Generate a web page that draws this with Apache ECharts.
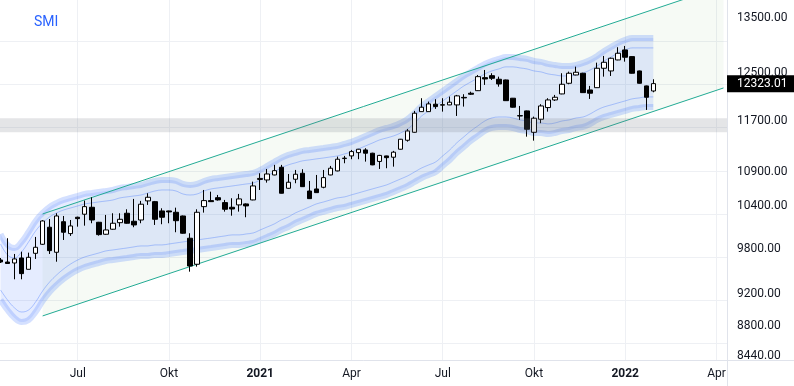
<!DOCTYPE html>
<html><head><meta charset="utf-8">
<script src="https://cdn.jsdelivr.net/npm/echarts@6/dist/echarts.min.js"></script>
<style>html,body{margin:0;padding:0;background:#fff}#c{width:794px;height:386px}</style>
</head><body><div id="c"></div>
<script>
// ---- categories (weekly bars, Monday of each week) ----
const firstWeekUTC = Date.UTC(2020, 3, 20);
const weekCount = 104;
const weeks = [];
for (let i = 0; i < weekCount; i++) weeks.push(new Date(firstWeekUTC + i * 7 * 864e5).toISOString().slice(0, 10));

// ---- candles ----
const opens = [9646,9619,9606,9673,9522,9736,9859,10095,9750,10173,
10006,10236,10279,10379,10165,9997,10067,10159,10293,10179,
10197,10471,10460,10326,10326,10307,10254,9942,9589,10388,
10475,10518,10446,10379,10413,10427,10485,10788,10780,10855,
10972,10656,10791,10881,10616,10646,10671,10855,10916,11105,
11146,11197,11239,11188,11061,11146,11126,11250,11391,11518,
11853,11853,11976,11960,11964,11964,12090,12160,12203,12426,
12460,12398,12386,12076,11787,11865,11518,11728,11920,12047,
12148,12329,12472,12502,12215,12254,12589,12542,12735,12913,
12794,12542,12284,12198];
const closes = [9619,9599,9660,9465,9682,9818,10183,9772,10254,10025,
10113,10216,10388,10197,9992,10057,10151,10207,10151,10127,
10423,10524,10207,10236,10312,10187,10011,9566,10307,10475,
10460,10485,10350,10354,10500,10398,10691,10803,10870,10920,
10583,10746,10866,10680,10504,10592,10815,10957,11095,11112,
11213,11250,11188,11008,11154,11119,11204,11407,11539,11827,
11926,11981,11936,11968,12009,12115,12081,12143,12443,12403,
12415,12317,12035,11926,11782,11566,11745,11947,12047,12092,
12312,12502,12519,12170,12160,12589,12694,12765,12854,12783,
12502,12329,12092,12323.01];
const highs = [9673,9942,9727,9758,9745,9960,10195,10211,10293,10254,
10197,10244,10475,10524,10170,10269,10293,10293,10350,10500,
10471,10583,10470,10364,10330,10373,10260,10011,10350,10631,
10606,10558,10485,10510,10573,10435,10755,10881,10946,11008,
11008,10870,10931,10942,10765,10855,10931,10992,11135,11146,
11239,11255,11266,11195,11162,11150,11224,11412,11571,11865,
12076,12019,12059,12076,12103,12131,12143,12186,12472,12559,
12502,12443,12392,12080,11947,11870,11771,11976,12076,12131,
12502,12530,12617,12510,12284,12687,12806,12776,12962,12985,
12800,12548,12290,12398];
const lows = [9606,9599,9391,9391,9522,9660,9850,9727,9623,9918,
9974,10103,10117,10151,9978,9990,10060,10103,10145,10095,
10151,10413,10127,10137,10151,10025,10005,9491,9557,10302,
10455,10475,10316,10258,10316,10236,10480,10631,10740,10850,
10580,10650,10731,10675,10500,10588,10656,10850,10910,11033,
11095,11095,11058,11003,10946,10957,10981,11245,11369,11512,
11850,11850,11898,11853,11960,11782,11936,12131,12198,12301,
12386,12271,12030,11920,11717,11448,11385,11664,11853,12030,
12143,12312,12467,12165,12064,12250,12443,12455,12730,12705,
12497,12324,11881,12176];

// ---- bands ----
const bandUpperOuter = [10001,9850,9808,9891,10029,10183,10297,10384,10442,10485,
10514,10543,10573,10587,10602,10616,10631,10661,10676,10691,
10705,10735,10765,10780,10780,10765,10720,10705,10720,10765,
10795,10810,10825,10840,10855,10870,10885,10931,10992,11053,
11115,11162,11193,11224,11239,11255,11270,11286,11302,11333,
11365,11412,11460,11507,11555,11587,11620,11668,11733,11832,
11947,12030,12114,12198,12283,12369,12455,12524,12594,12665,
12717,12753,12789,12789,12771,12753,12717,12700,12665,12647,
12629,12629,12647,12682,12735,12806,12895,12967,13040,13094,
13131,13131,13131,13131];
const bandUpperInner = [9863,9714,9673,9755,9891,10042,10155,10241,10298,10340,
10369,10398,10427,10441,10456,10469,10484,10514,10529,10543,
10557,10587,10616,10631,10631,10616,10572,10557,10572,10616,
10646,10661,10676,10690,10705,10720,10735,10780,10840,10900,
10962,11008,11039,11069,11084,11100,11114,11130,11146,11177,
11208,11255,11302,11348,11396,11427,11460,11507,11571,11669,
11782,11864,11947,12030,12114,12198,12283,12351,12420,12490,
12542,12577,12613,12613,12595,12577,12542,12525,12490,12473,
12455,12455,12473,12507,12559,12629,12717,12788,12860,12913,
12950,12950,12950,12950];
const bandLowerInner = [9253,9125,9025,8974,8999,9100,9240,9356,9448,9527,
9593,9646,9687,9714,9740,9768,9781,9795,9808,9823,
9836,9836,9850,9850,9863,9877,9891,9905,9918,9932,
9945,9960,9974,9988,9988,10001,10015,10057,10099,10141,
10198,10240,10297,10340,10383,10427,10455,10485,10514,10529,
10559,10588,10618,10647,10676,10706,10750,10795,10841,10901,
10961,11007,11054,11146,11239,11350,11444,11539,11620,11700,
11749,11765,11765,11749,11717,11700,11668,11668,11652,11668,
11700,11717,11749,11765,11815,11881,11931,11964,11998,12031,
12065,12081,12098,12098];
const bandLowerOuter = [9125,8999,8900,8850,8875,8974,9112,9227,9318,9395,
9461,9513,9553,9580,9606,9633,9646,9660,9673,9687,
9700,9700,9714,9714,9727,9741,9754,9768,9781,9795,
9808,9822,9836,9850,9850,9863,9877,9918,9960,10001,
10057,10099,10155,10197,10240,10283,10311,10340,10369,10384,
10413,10442,10471,10500,10529,10558,10602,10646,10691,10750,
10810,10855,10901,10992,11084,11193,11286,11380,11460,11539,
11587,11603,11603,11587,11555,11539,11507,11507,11491,11507,
11539,11555,11587,11603,11652,11717,11766,11799,11832,11865,
11898,11914,11931,11931];

// ---- channel (two anchor points) ----
const channelWeeks = ['2020-06-01', '2022-04-11'];
const channelUpper = [10283, 14113];
const channelLower = [8925, 12249];

// ---- zone ----
const zoneRange = [11518, 11745];

// ---- axes ----
const yMin = 8395.2, yMax = 13840.6;
const yTickLabels = [8440, 8800, 9200, 9800, 10400, 10900, 11700, 12500, 13500];
const yGridValues = [8596, 9125, 9687, 10283, 10917, 11605, 12319, 13077];
const xTickWeeks = ['2020-07-06','2020-10-05','2021-01-04','2021-04-05','2021-07-05','2021-10-04','2022-01-03','2022-04-04'];
const xTickLabels = ['Jul','Okt','2021','Apr','Jul','Okt','2022','Apr'];

const FONT = 'Roboto, "Noto Sans", sans-serif';
const tickMap = {};
xTickWeeks.forEach((w, i) => tickMap[w] = xTickLabels[i]);

const candleData = opens.map((o, i) => [o, closes[i], lows[i], highs[i]]);
const bandDiff = bandUpperOuter.map((u, i) => u - bandLowerOuter[i]);
const chLowerPts = channelWeeks.map((w, i) => [w, channelLower[i]]);
const chDiffPts = channelWeeks.map((w, i) => [w, channelUpper[i] - channelLower[i]]);
const chUpperPts = channelWeeks.map((w, i) => [w, channelUpper[i]]);
const bandWeeks = weeks.slice(0, opens.length);
const pts = arr => arr.map((v, i) => [bandWeeks[i], v]);

const chart = echarts.init(document.getElementById('c'));
chart.setOption({
  animation: false,
  backgroundColor: '#ffffff',
  title: { text: 'SMI', left: 29, top: 10, textStyle: { color: '#2962ff', fontSize: 14, fontWeight: 'normal', fontFamily: FONT } },
  grid: { left: -3, top: 0, width: 730, height: 360, containLabel: false, outerBoundsMode: 'none' },
  xAxis: {
    type: 'category', data: weeks, boundaryGap: true,
    axisLine: { show: true, lineStyle: { color: '#e0e3eb', width: 1 } },
    axisTick: { show: false },
    axisLabel: {
      interval: (i, v) => v in tickMap,
      formatter: v => /^\d{4}$/.test(tickMap[v]) ? '{b|' + tickMap[v] + '}' : tickMap[v],
      color: '#131722', fontSize: 12, margin: 8, fontFamily: FONT,
      rich: { b: { fontWeight: 'bold', fontSize: 12, color: '#131722', fontFamily: FONT } }
    },
    splitLine: { show: true, interval: (i, v) => v in tickMap, alignWithLabel: true, lineStyle: { color: '#eef0f4', width: 1 } }
  },
  yAxis: [
    { type: 'log', logBase: 10, min: yMin, max: yMax, position: 'right', show: false, splitLine: { show: false } },
    {
      type: 'value', min: Math.log(yMin), max: Math.log(yMax), position: 'right',
      axisLine: { show: true, lineStyle: { color: '#e0e3eb' } },
      axisTick: { show: false, customValues: yGridValues.map(Math.log) },
      axisLabel: { customValues: yTickLabels.map(Math.log), formatter: v => Math.exp(v).toFixed(2), color: '#131722', fontSize: 12, margin: 10, fontFamily: FONT },
      splitLine: { show: true, lineStyle: { color: '#eef0f4', width: 1 } }
    }
  ],
  graphic: [
    { type: 'line', shape: { x1: 727, y1: 360.5, x2: 794, y2: 360.5 }, style: { stroke: '#e0e3eb', lineWidth: 1 }, silent: true },
    { type: 'line', shape: { x1: 727.5, y1: 360, x2: 727.5, y2: 386 }, style: { stroke: '#e0e3eb', lineWidth: 1 }, silent: true }
  ],
  series: [
    { type: 'line', name: 'chBase', data: chLowerPts, stack: 'ch', symbol: 'none', lineStyle: { opacity: 0 }, z: 1, silent: true },
    { type: 'line', name: 'chFill', data: chDiffPts, stack: 'ch', symbol: 'none', lineStyle: { opacity: 0 }, areaStyle: { color: 'rgba(90,160,70,0.055)', opacity: 1 }, z: 1, silent: true },
    { type: 'line', name: 'bbBase', data: pts(bandLowerOuter), stack: 'bb', symbol: 'none', smooth: 0.4, lineStyle: { opacity: 0 }, z: 2, silent: true },
    { type: 'line', name: 'bbFill', data: pts(bandDiff), stack: 'bb', symbol: 'none', smooth: 0.4, lineStyle: { opacity: 0 }, areaStyle: { color: 'rgba(41,98,255,0.12)', opacity: 1 }, z: 2, silent: true },
    { type: 'line', name: 'upperOuter', data: pts(bandUpperOuter), symbol: 'none', smooth: 0.4, lineStyle: { color: 'rgba(41,98,255,0.2)', width: 6 }, z: 3, silent: true },
    { type: 'line', name: 'lowerOuter', data: pts(bandLowerOuter), symbol: 'none', smooth: 0.4, lineStyle: { color: 'rgba(41,98,255,0.2)', width: 6 }, z: 3, silent: true },
    { type: 'line', name: 'upperInner', data: pts(bandUpperInner), symbol: 'none', smooth: 0.4, lineStyle: { color: 'rgba(41,98,255,0.32)', width: 1 }, z: 3, silent: true },
    { type: 'line', name: 'lowerInner', data: pts(bandLowerInner), symbol: 'none', smooth: 0.4, lineStyle: { color: 'rgba(41,98,255,0.32)', width: 1 }, z: 3, silent: true },
    { type: 'line', name: 'chUpper', data: chUpperPts, symbol: 'none', lineStyle: { color: '#22ab94', width: 1 }, z: 4, silent: true },
    { type: 'line', name: 'chLower', data: chLowerPts, symbol: 'none', lineStyle: { color: '#22ab94', width: 1 }, z: 4, silent: true },
    {
      type: 'candlestick', name: 'SMI', data: candleData, barWidth: 5, z: 5,
      itemStyle: { color: '#ffffff', color0: '#000000', borderColor: '#000000', borderColor0: '#000000', borderWidth: 1 }
    },
    {
      type: 'line', name: 'zone', data: [], z: 6, silent: true,
      markArea: { silent: true, z: 6, itemStyle: { color: 'rgba(120,123,134,0.2)' }, data: [[{ yAxis: zoneRange[0] }, { yAxis: zoneRange[1] }]] }
    },
    {
      type: 'line', name: 'lastPrice', data: [], z: 10, silent: true, clip: false,
      markLine: {
        silent: true, symbol: ['none', 'none'], animation: false, z: 10,
        lineStyle: { color: 'rgba(0,0,0,0)', width: 0, type: 'solid' },
        label: { show: true, position: 'end', distance: 0, formatter: p => Number(p.value).toFixed(2), backgroundColor: '#000000', color: '#ffffff', padding: [3, 10, 2, 10], fontSize: 12, fontFamily: FONT, opacity: 1 },
        emphasis: { disabled: true },
        data: [{ yAxis: closes[closes.length - 1] }]
      }
    }
  ]
});
</script></body></html>
